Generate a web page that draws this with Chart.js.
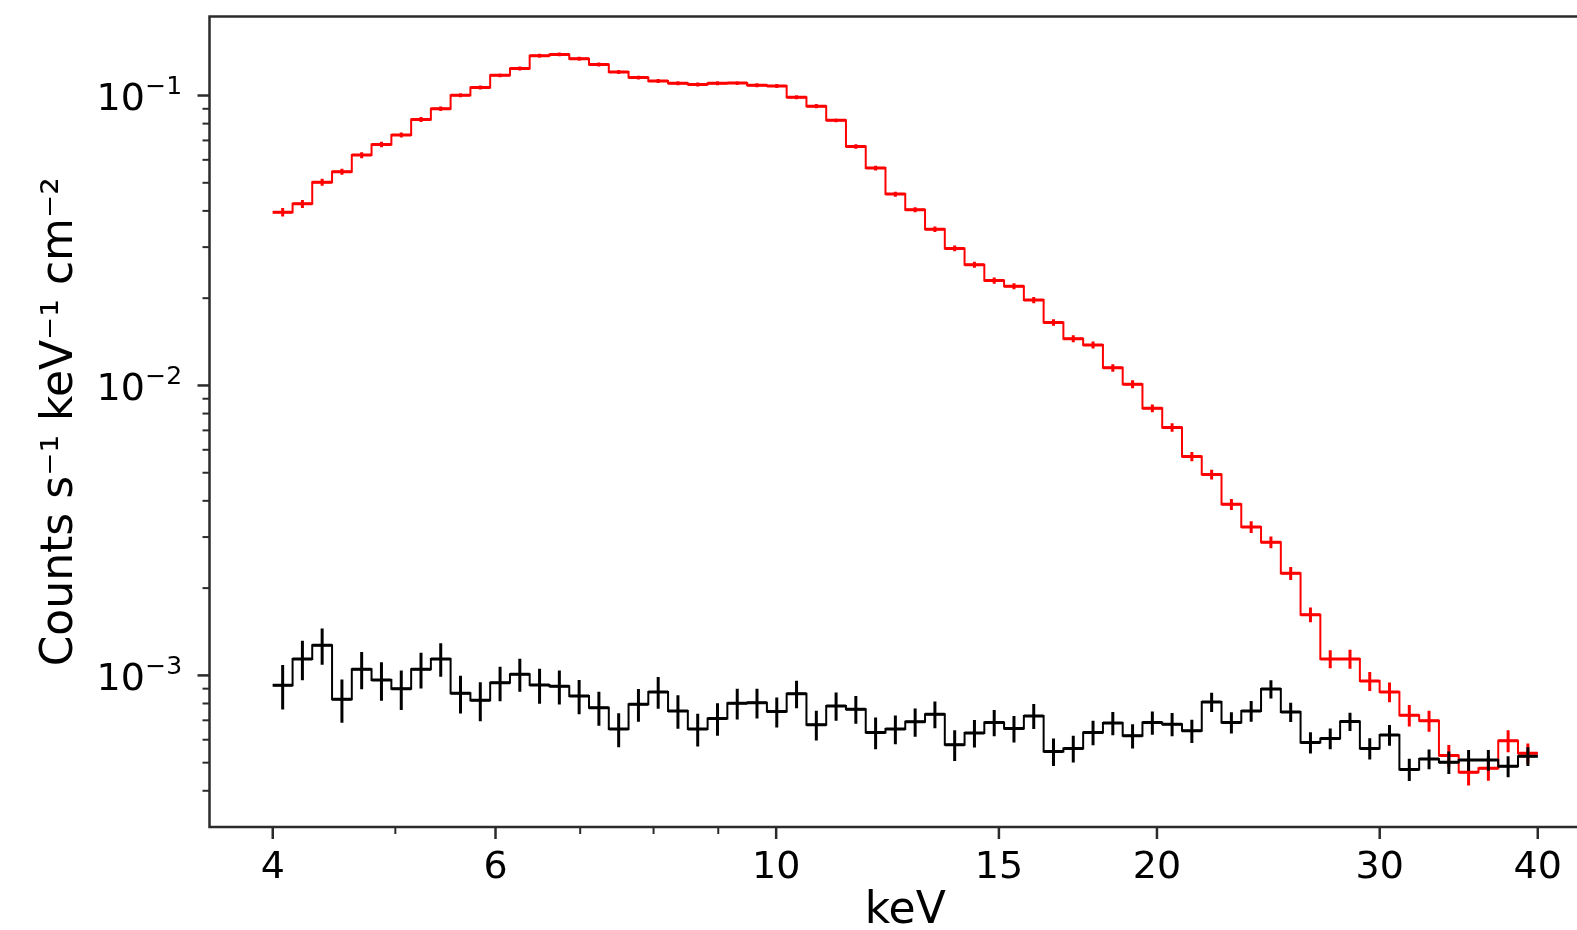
<!DOCTYPE html>
<html>
<head>
<meta charset="utf-8">
<script src="https://cdn.jsdelivr.net/npm/chart.js@4.4.1/dist/chart.umd.min.js"></script>
<style>
  html, body { margin: 0; padding: 0; background: #fff; overflow: hidden; width: 1577px; height: 930px; }
  #wrap { position: absolute; left: 0; top: 0; width: 1620px; height: 930px; }
</style>
</head>
<body>
<div id="wrap"><canvas id="c" width="1620" height="930"></canvas></div>
<script>
// ---- data ----
const energyEdges = [4.000, 4.147, 4.298, 4.456, 4.619, 4.788, 4.964, 5.146, 5.334, 5.529,
  5.732, 5.942, 6.160, 6.385, 6.619, 6.862, 7.113, 7.374, 7.644, 7.924,
  8.214, 8.515, 8.827, 9.150, 9.485, 9.833, 10.193, 10.567, 10.954, 11.355,
  11.771, 12.202, 12.649, 13.113, 13.593, 14.091, 14.607, 15.142, 15.697, 16.272,
  16.868, 17.486, 18.127, 18.791, 19.479, 20.193, 20.932, 21.699, 22.494, 23.318,
  24.172, 25.058, 25.975, 26.927, 27.914, 28.936, 29.996, 31.095, 32.234, 33.415,
  34.639, 35.908, 37.224, 38.587, 40.000];

const redRate = [0.0396, 0.0423, 0.0502, 0.0546, 0.0623, 0.0678, 0.0731, 0.0827, 0.0900, 0.1002,
  0.1065, 0.1174, 0.1240, 0.1371, 0.1386, 0.1339, 0.1280, 0.1206, 0.1153, 0.1123,
  0.1102, 0.1091, 0.1102, 0.1104, 0.1085, 0.1078, 0.0987, 0.0919, 0.0821, 0.0667,
  0.0562, 0.0457, 0.0404, 0.0346, 0.0297, 0.0261, 0.0230, 0.0220, 0.0197, 0.0165,
  0.0145, 0.0138, 0.0115, 0.0101, 0.00834, 0.00716, 0.00569, 0.00493, 0.00389, 0.00325,
  0.00288, 0.00225, 0.00162, 0.00114, 0.00114, 0.000956, 0.000877, 0.000729, 0.000697, 0.000529,
  0.000463, 0.000478, 0.000595, 0.000539];

const redErr = [0.00135, 0.00134, 0.00139, 0.00129, 0.00148, 0.00144, 0.00144, 0.00163, 0.00157, 0.0016,
  0.0017, 0.0018, 0.0019, 0.0021, 0.0021, 0.0021, 0.0020, 0.0019, 0.0018, 0.0018,
  0.0017, 0.0017, 0.0017, 0.0017, 0.0017, 0.0017, 0.0016, 0.0015, 0.0013, 0.00116,
  0.00102, 0.00090, 0.00080, 0.00074, 0.00066, 0.00062, 0.00055, 0.00052, 0.00050, 0.00043,
  0.00040, 0.00038, 0.00034, 0.00032, 0.00026, 0.00024, 0.00021, 0.00019, 0.00017, 0.000154,
  0.000136, 0.000115, 0.000096, 0.000081, 0.000085, 0.000072, 0.000069, 0.000062, 0.000058, 0.000046,
  0.000046, 0.000045, 0.000052, 0.000043];

const blackRate = [0.000924, 0.00114, 0.00127, 0.000827, 0.00105, 0.000964, 0.000900, 0.00105, 0.00114, 0.000868,
  0.000821, 0.000943, 0.00101, 0.000926, 0.000917, 0.000849, 0.000774, 0.000653, 0.000795, 0.000877,
  0.000754, 0.000653, 0.000710, 0.000802, 0.000805, 0.000750, 0.000865, 0.000676, 0.000785, 0.000765,
  0.000636, 0.000653, 0.000692, 0.000735, 0.000577, 0.000633, 0.000688, 0.000656, 0.000725, 0.000546,
  0.000560, 0.000636, 0.000685, 0.000619, 0.000688, 0.000679, 0.000644, 0.000810, 0.000688, 0.000754,
  0.000898, 0.000748, 0.000587, 0.000606, 0.000693, 0.000560, 0.000623, 0.000474, 0.000515, 0.000502,
  0.000511, 0.000511, 0.000486, 0.000526];

const blackErr = [0.000161, 0.000177, 0.000181, 0.000141, 0.000154, 0.000147, 0.000140, 0.000148, 0.000150, 0.000129,
  0.000126, 0.000129, 0.000131, 0.000128, 0.000123, 0.000115, 0.000104, 0.0000875, 0.000103, 0.000110,
  0.0000996, 0.0000849, 0.0000909, 0.0000970, 0.0000950, 0.0000885, 0.0000943, 0.0000797, 0.0000879, 0.0000833,
  0.0000795, 0.0000738, 0.0000775, 0.0000772, 0.0000704, 0.0000690, 0.0000715, 0.0000689, 0.0000718, 0.0000595,
  0.0000588, 0.0000620, 0.0000630, 0.0000594, 0.0000633, 0.0000624, 0.0000593, 0.0000620, 0.0000578, 0.0000616,
  0.0000648, 0.0000570, 0.0000494, 0.0000495, 0.0000501, 0.0000471, 0.0000509, 0.0000419, 0.0000407, 0.0000447,
  0.0000424, 0.0000424, 0.0000403, 0.0000394];

const xTickValues = [4, 6, 10, 15, 20, 30, 40];
const xMinorTicks = [5, 7, 8, 9];
const yTickValues = [1e-3, 1e-2, 1e-1];
const yTickBase = '10';
const yTickExponents = ['\u22123', '\u22122', '\u22121'];
const yMinorTicks = [4e-4, 5e-4, 6e-4, 7e-4, 8e-4, 9e-4,
  2e-3, 3e-3, 4e-3, 5e-3, 6e-3, 7e-3, 8e-3, 9e-3,
  2e-2, 3e-2, 4e-2, 5e-2, 6e-2, 7e-2, 8e-2, 9e-2];
const xLabel = 'keV';
const yLabel = 'Counts s\u207B\u00B9 keV\u207B\u00B9 cm\u207B\u00B2';

// ---- build library datasets from the arrays ----
function stepData(rates) {
  return energyEdges.map((e, i) => ({ x: e, y: rates[Math.min(i, rates.length - 1)] }));
}
function errData(rates, errs) {
  const pts = [];
  rates.forEach((v, k) => {
    const lo = energyEdges[k], hi = energyEdges[k + 1];
    const c = Math.sqrt(lo * hi);
    pts.push({ x: c, y: v - errs[k] }, { x: c, y: v + errs[k] }, { x: c, y: null });
    pts.push({ x: lo, y: v }, { x: hi, y: v }, { x: hi, y: null });
  });
  return pts;
}

const FONT = 'DejaVu Sans';

const axisPlugin = {
  id: 'axisFrame',
  afterDraw(chart) {
    const { ctx, chartArea: { left, right, top, bottom }, scales: { x, y } } = chart;
    ctx.save();
    ctx.strokeStyle = '#2b2b2b';
    ctx.lineCap = 'butt';
    const tick = (px, horiz, len, w) => {
      ctx.lineWidth = w;
      ctx.beginPath();
      if (horiz) { ctx.moveTo(px, bottom); ctx.lineTo(px, bottom + len); }
      else { ctx.moveTo(left, px); ctx.lineTo(left - len, px); }
      ctx.stroke();
    };
    xTickValues.forEach(v => tick(x.getPixelForValue(v), true, 12, 2.5));
    xMinorTicks.forEach(v => tick(x.getPixelForValue(v), true, 7, 2));
    yTickValues.forEach(v => tick(y.getPixelForValue(v), false, 12, 2.5));
    yMinorTicks.forEach(v => tick(y.getPixelForValue(v), false, 7, 2));
    ctx.lineWidth = 2.5;
    ctx.strokeRect(left, top, right - left, bottom - top);

    // y tick labels: base "10" with raised exponent
    ctx.fillStyle = '#000';
    ctx.textBaseline = 'alphabetic';
    ctx.textAlign = 'left';
    yTickValues.forEach((v, i) => {
      const py = y.getPixelForValue(v);
      const x0 = left - 113;
      ctx.font = '38px "' + FONT + '"';
      ctx.fillText(yTickBase, x0, py + 14.5);
      const w = ctx.measureText(yTickBase).width;
      ctx.font = '25px "' + FONT + '"';
      ctx.fillText(yTickExponents[i], x0 + w + 0.5, py - 1.5);
    });
    ctx.restore();
  }
};

new Chart(document.getElementById('c'), {
  type: 'line',
  data: {
    datasets: [
      { label: 'black step', data: stepData(blackRate), borderColor: '#000', borderWidth: 2,
        stepped: 'before', pointRadius: 0, fill: false, order: 1 },
      { label: 'black err', data: errData(blackRate, blackErr), borderColor: '#000', borderWidth: 3,
        pointRadius: 0, fill: false, spanGaps: false, order: 0 },
      { label: 'red step', data: stepData(redRate), borderColor: '#ff0000', borderWidth: 2,
        stepped: 'before', pointRadius: 0, fill: false, order: 3 },
      { label: 'red err', data: errData(redRate, redErr), borderColor: '#ff0000', borderWidth: 3,
        pointRadius: 0, fill: false, spanGaps: false, order: 2 }
    ]
  },
  options: {
    responsive: false,
    animation: false,
    devicePixelRatio: 1,
    layout: { padding: { left: 0, top: 16.5, right: 19, bottom: 0 } },
    plugins: { legend: { display: false }, tooltip: { enabled: false } },
    elements: { line: { tension: 0 } },
    scales: {
      x: {
        type: 'logarithmic', min: 3.565, max: 44.88,
        grid: { display: false }, border: { display: false },
        afterBuildTicks: s => { s.ticks = xTickValues.map(v => ({ value: v })); },
        afterFit: s => { s.height = 103; s.paddingLeft = 0; s.paddingRight = 0; s.paddingTop = 0; s.paddingBottom = 0; },
        ticks: { autoSkip: false, maxRotation: 0, padding: 10, color: '#000',
          font: { family: FONT, size: 38 }, callback: v => String(v) },
        title: { display: true, text: xLabel, color: '#000',
          font: { family: FONT, size: 44, lineHeight: 0.8 }, padding: { top: 0, bottom: 1 } }
      },
      y: {
        type: 'logarithmic', min: 3.115e-4, max: 0.1873,
        grid: { display: false }, border: { display: false },
        afterBuildTicks: s => { s.ticks = yTickValues.map(v => ({ value: v })); },
        afterFit: s => { s.width = 209.5; s.paddingLeft = 0; s.paddingRight = 0; s.paddingTop = 0; s.paddingBottom = 0; },
        ticks: { display: false },
        title: { display: true, text: yLabel, color: '#000',
          font: { family: FONT, size: 44 }, padding: { top: 34, bottom: 0 } }
      }
    }
  },
  plugins: [axisPlugin]
});
</script>
</body>
</html>
